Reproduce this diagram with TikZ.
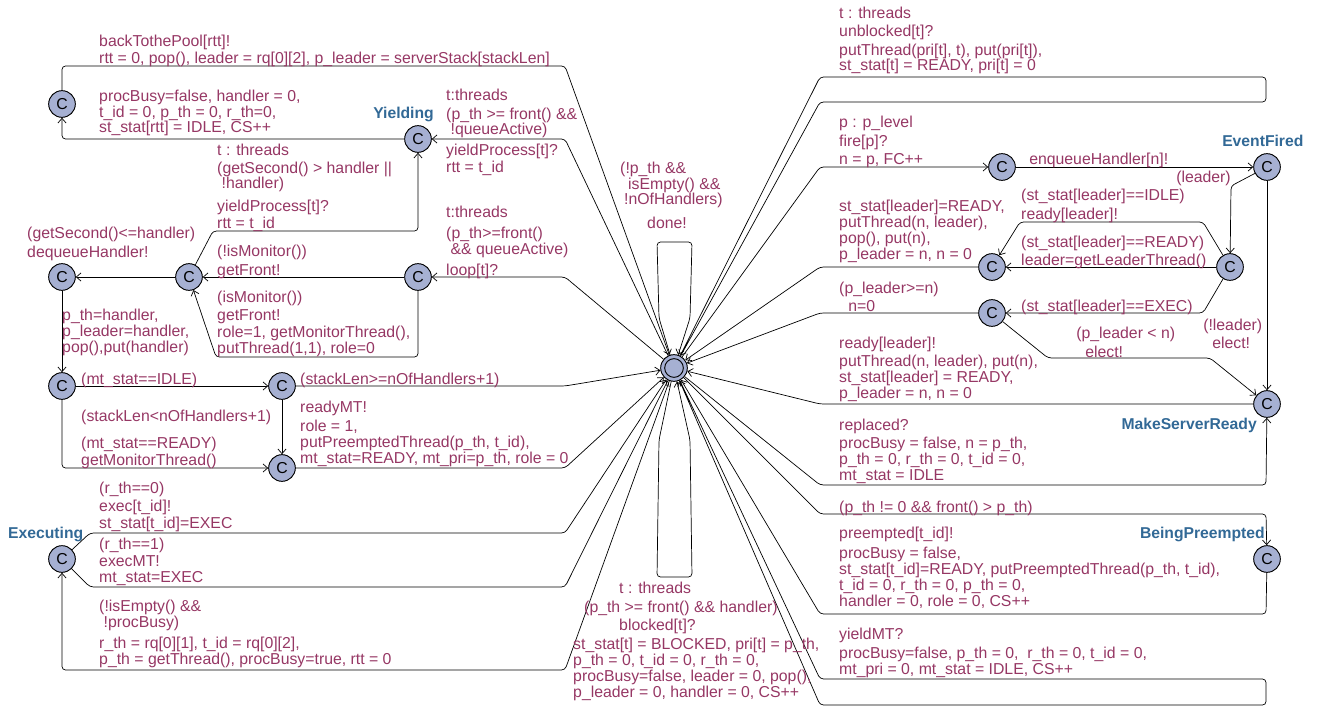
\documentclass[tikz,border=0pt]{standalone}
\usepackage{fontspec}
\setmainfont{Liberation Sans}
\usetikzlibrary{arrows.meta}
\definecolor{locfill}{RGB}{166,176,210}
\definecolor{lblcol}{RGB}{150,55,100}
\definecolor{namecol}{RGB}{50,105,150}
\tikzset{
  loc/.style={circle,draw,fill=locfill,line width=0.8pt,minimum size=0.8cm,inner sep=0pt,font=\fontsize{13.5}{13.5}\selectfont},
  ring/.style={circle,draw,line width=0.8pt,minimum size=0.56cm,inner sep=0pt},
  lbl/.style={anchor=base west,align=left,inner sep=0pt,text=lblcol,font=\fontsize{13.5}{13.6}\selectfont},
  locname/.style={inner sep=0pt,text=namecol,font=\bfseries\fontsize{13.4}{13.6}\selectfont},
  tr/.style={draw,line width=0.6pt,rounded corners=3pt,-{Straight Barb[length=4pt,width=7pt]}}
}
\begin{document}
\begin{tikzpicture}[x=0.03cm,y=-0.03cm]
\useasboundingbox (0,0) rectangle (1324,707);

% locations
\node[loc] (nHub) at (674,368) {};
\node[ring] (nHubIn) at (nHub) {};
\node[loc] (nPool) at (62,104) {C};
\node[loc] (nYield) at (418,139) {C};
\node[loc] (nDeq) at (62,277) {C};
\node[loc] (nFront) at (189,277) {C};
\node[loc] (nLoop) at (418,277) {C};
\node[loc] (nMon) at (62,386) {C};
\node[loc] (nStack) at (282,386) {C};
\node[loc] (nMT) at (282,468) {C};
\node[loc] (nExec) at (62,559) {C};
\node[loc] (nFire) at (1002,167) {C};
\node[loc] (nEvent) at (1267,167) {C};
\node[loc] (nLead) at (992,267) {C};
\node[loc] (nCheck) at (1230,267) {C};
\node[loc] (nRun) at (992,313) {C};
\node[loc] (nMake) at (1267,404) {C};
\node[loc] (nPre) at (1267,559) {C};

\node[locname,anchor=base east] (tYield) at (434,119) {Yielding};
\node[locname,anchor=base west] (tEvent) at (1222,147) {EventFired};
\node[locname,anchor=base east] (tMake) at (1257,429) {MakeServerReady};
\node[locname,anchor=base east] (tPre) at (1265,538) {BeingPreempted};
\node[locname,anchor=base west] (tExec) at (8,538) {Executing};

% transitions on the left
\draw[tr] (nPool) -- (62,66) -- (565,66) -- (nHub);
\draw[tr] (nYield) -- (62,139) -- (nPool);
\draw[tr] (nHub) -- (565,139) -- (nYield);
\draw[tr] (nFront) -- (213,231) -- (418,231) -- (nYield);
\draw[tr] (nLoop) -- (nFront);
\draw[tr] (nLoop) -- (418,357) -- (216,357) -- (nFront);
\draw[tr] (nHub) -- (565,277) -- (nLoop);
\draw[tr] (nFront) -- (nDeq);
\draw[tr] (nDeq) -- (nMon);
\draw[tr] (nMon) -- (nStack);
\draw[tr] (nMon) -- (62,468) -- (nMT);
\draw[tr] (nStack) -- (nMT);
\draw[tr] (nStack) -- (565,386) -- (nHub);
\draw[tr] (nMT) -- (565,468) -- (nHub);
\draw[tr] (nExec) -- (90,533) -- (565,533) -- (nHub);
\draw[tr] (nExec) -- (90,587) -- (565,587) -- (nHub);
\draw[tr] (nHub) -- (565,670) -- (62,670) -- (nExec);

% self loops
\draw[tr] (nHub) -- (659,318) -- (657,242) -- (692,242) -- (690,318) -- (nHub);
\draw[tr] (nHub) -- (659,440) -- (657,577) -- (692,577) -- (690,440) -- (nHub);
\draw[tr] (nHub) -- (820,102) -- (1266,102) -- (1266,77) -- (820,77) -- (nHub);
\draw[tr] (nHub) -- (820,679) -- (1266,679) -- (1266,705) -- (820,705) -- (nHub);

% transitions on the right
\draw[tr] (nHub) -- (820,167) -- (nFire);
\draw[tr] (nFire) -- (nEvent);
\draw[tr] (nEvent) -- (1231,186) -- (nCheck);
\draw[tr] (nEvent) -- (nMake);
\draw[tr] (nCheck) -- (1203,222) -- (1020,222) -- (nLead);
\draw[tr] (nCheck) -- (nLead);
\draw[tr] (nLead) -- (820,267) -- (nHub);
\draw[tr] (nCheck) -- (1203,313) -- (nRun);
\draw[tr] (nRun) -- (820,313) -- (nHub);
\draw[tr] (nRun) -- (1048,358) -- (1210,358) -- (nMake);
\draw[tr] (nMake) -- (820,404) -- (nHub);
\draw[tr] (nHub) -- (820,485) -- (1266,485) -- (nMake);
\draw[tr] (nHub) -- (820,514) -- (1266,514) -- (nPre);
\draw[tr] (nPre) -- (1266,614) -- (820,614) -- (nHub);

% labels on the left (multi-line ones sit on their last baseline)
\node[lbl] (l1) at (99,47) {backTothePool[rtt]!};
\node[lbl] (l2) at (99,64) {rtt = 0, pop(), leader = rq[0][2], p\_leader = serverStack[stackLen]};
\node[lbl] (l3) at (99,133) {procBusy=false, handler = 0,\\t\_id = 0, p\_th = 0, r\_th=0,\\st\_stat[rtt] = IDLE, CS++};
\node[lbl] (l4) at (446,101) {t:threads};
\node[lbl] (l5) at (446,135) {(p\_th >= front() \&\&\\\ !queueActive)};
\node[lbl] (l6) at (446,156) {yieldProcess[t]?};
\node[lbl] (l7) at (446,173) {rtt = t\_id};
\node[lbl] (l8) at (217,156) {t : threads};
\node[lbl] (l9) at (217,189) {(getSecond() > handler ||\\\ !handler)};
\node[lbl] (l10) at (217,212) {yieldProcess[t]?};
\node[lbl] (l11) at (217,228) {rtt = t\_id};
\node[lbl] (l12) at (620,205) {(!p\_th \&\&\\\hspace{6.8pt}isEmpty() \&\&\\\hspace{3.4pt}!nOfHandlers)};
\node[lbl] (l13) at (647,228) {done!};
\node[lbl] (l14) at (446,218) {t:threads};
\node[lbl] (l15) at (446,254) {(p\_th>=front()\\\ \&\& queueActive)};
\node[lbl] (l16) at (446,275) {loop[t]?};
\node[lbl] (l17) at (27,238) {(getSecond()<=handler)};
\node[lbl] (l18) at (27,257) {dequeueHandler!};
\node[lbl] (l19) at (217,256) {(!isMonitor())};
\node[lbl] (l20) at (217,275) {getFront!};
\node[lbl] (l21) at (217,302) {(isMonitor())};
\node[lbl] (l22) at (217,320) {getFront!};
\node[lbl] (l23) at (217,353) {role=1, getMonitorThread(),\\putThread(1,1), role=0};
\node[lbl] (l24) at (62,352) {p\_th=handler,\\p\_leader=handler,\\pop(),put(handler)};
\node[lbl] (l25) at (81,384) {(mt\_stat==IDLE)};
\node[lbl] (l26) at (300,384) {(stackLen>=nOfHandlers+1)};
\node[lbl] (l27) at (81,421) {(stackLen<nOfHandlers+1)};
\node[lbl] (l28) at (300,412) {readyMT!};
\node[lbl] (l29) at (300,463) {role = 1,\\putPreemptedThread(p\_th, t\_id),\\mt\_stat=READY, mt\_pri=p\_th, role = 0};
\node[lbl] (l30) at (81,448) {(mt\_stat==READY)};
\node[lbl] (l31) at (81,465) {getMonitorThread()};
\node[lbl] (l32) at (99,493) {(r\_th==0)};
\node[lbl] (l33) at (99,511) {exec[t\_id]!};
\node[lbl] (l34) at (99,528) {st\_stat[t\_id]=EXEC};
\node[lbl] (l35) at (99,549) {(r\_th==1)};
\node[lbl] (l36) at (99,566) {execMT!};
\node[lbl] (l37) at (99,582) {mt\_stat=EXEC};
\node[lbl] (l38) at (99,627) {(!isEmpty() \&\&\\\ !procBusy)};
\node[lbl] (l39) at (99,664) {r\_th = rq[0][1], t\_id = rq[0][2],\\p\_th = getThread(), procBusy=true, rtt = 0};
\node[lbl] (l40) at (619,593) {t : threads};
\node[lbl] (l41) at (584,612) {(p\_th >= front() \&\& handler)};
\node[lbl] (l42) at (619,630) {blocked[t]?};
\node[lbl] (l43) at (573,697) {st\_stat[t] = BLOCKED, pri[t] = p\_th,\\p\_th = 0, t\_id = 0, r\_th = 0,\\procBusy=false, leader = 0, pop(),\\p\_leader = 0, handler = 0, CS++};

% labels on the right
\node[lbl] (r1) at (839,19) {t : threads};
\node[lbl] (r2) at (839,37) {unblocked[t]?};
\node[lbl] (r3) at (839,71) {putThread(pri[t], t), put(pri[t]),\\st\_stat[t] = READY, pri[t] = 0};
\node[lbl] (r4) at (839,128) {p : p\_level};
\node[lbl] (r5) at (839,147) {fire[p]?};
\node[lbl] (r6) at (839,165) {n = p, FC++};
\node[lbl] (r7) at (1029,165) {enqueueHandler[n]!};
\node[lbl] (r8) at (1176,183) {(leader)};
\node[lbl] (r9) at (1021,201) {(st\_stat[leader]==IDLE)};
\node[lbl] (r10) at (1021,219) {ready[leader]!};
\node[lbl] (r11) at (839,259) {st\_stat[leader]=READY,\\putThread(n, leader),\\pop(), put(n),\\p\_leader = n, n = 0};
\node[lbl] (r12) at (1021,247) {(st\_stat[leader]==READY)};
\node[lbl] (r13) at (1021,265) {leader=getLeaderThread()};
\node[lbl] (r14) at (839,293) {(p\_leader>=n)};
\node[lbl] (r15) at (839,311) {\hspace{7.7pt}n=0};
\node[lbl] (r16) at (1021,311) {(st\_stat[leader]==EXEC)};
\node[lbl] (r17) at (1076,338) {(p\_leader < n)};
\node[lbl] (r18) at (1076,357) {\hspace{7.7pt}elect!};
\node[lbl] (r19) at (1203,330) {(!leader)};
\node[lbl] (r20) at (1203,348) {\hspace{7.7pt}elect!};
\node[lbl] (r21) at (839,348) {ready[leader]!};
\node[lbl] (r22) at (839,398) {putThread(n, leader), put(n),\\st\_stat[leader] = READY,\\p\_leader = n, n = 0};
\node[lbl] (r23) at (839,430) {replaced?};
\node[lbl] (r24) at (839,480) {procBusy = false, n = p\_th,\\p\_th = 0, r\_th = 0, t\_id = 0,\\mt\_stat = IDLE};
\node[lbl] (r25) at (839,512) {(p\_th != 0 \&\& front() > p\_th)};
\node[lbl] (r26) at (839,538) {preempted[t\_id]!};
\node[lbl] (r27) at (839,606) {procBusy = false,\\st\_stat[t\_id]=READY, putPreemptedThread(p\_th, t\_id),\\t\_id = 0, r\_th = 0, p\_th = 0,\\handler = 0, role = 0, CS++};
\node[lbl] (r28) at (839,639) {yieldMT?};
\node[lbl] (r29) at (839,674) {procBusy=false, p\_th = 0,\ \ r\_th = 0, t\_id = 0,\\mt\_pri = 0, mt\_stat = IDLE, CS++};
\end{tikzpicture}
\end{document}
